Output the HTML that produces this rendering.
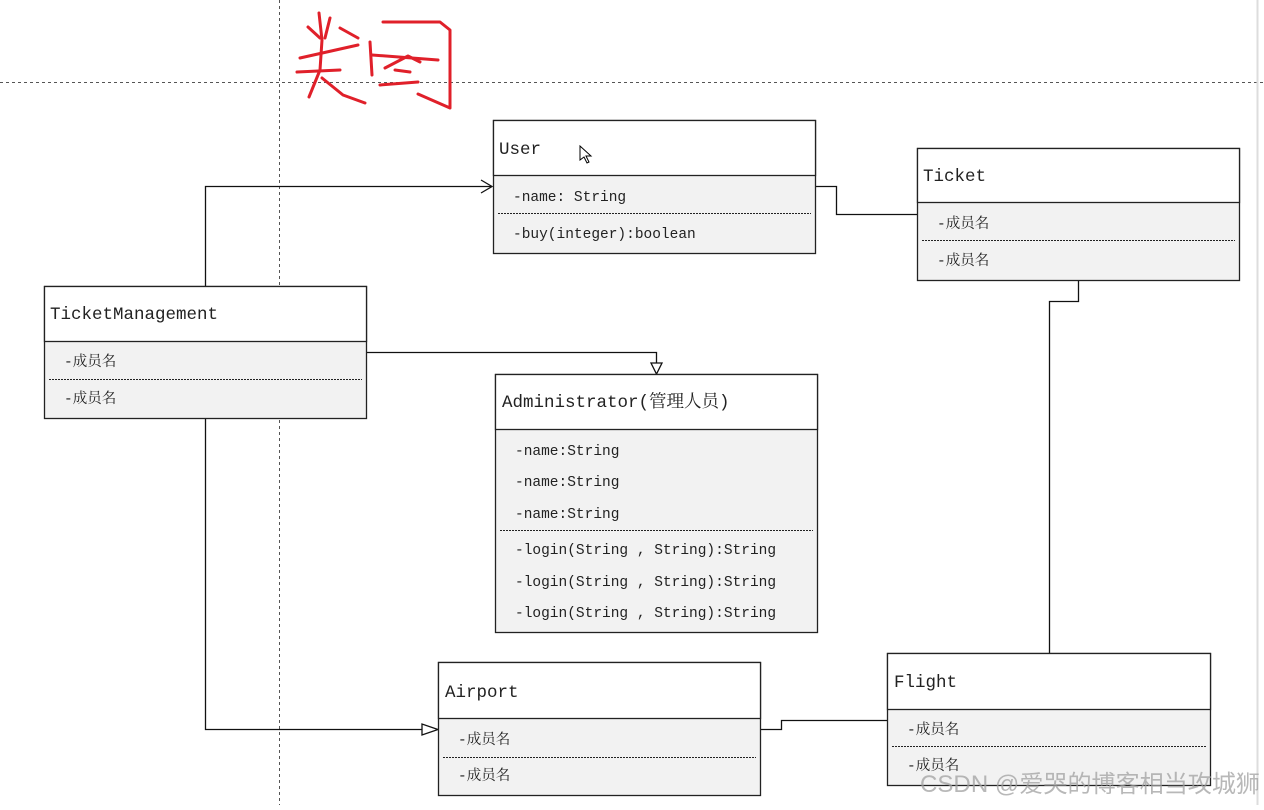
<!DOCTYPE html>
<html><head><meta charset="utf-8"><style>
body{margin:0;background:#fff;width:1264px;height:805px;overflow:hidden}
text{font-family:"Liberation Mono","Noto Serif CJK SC","Noto Sans CJK SC",monospace;font-size:14.5px;fill:#222}
.t{font-size:17.5px}
</style></head><body>
<svg width="1264" height="805" xmlns="http://www.w3.org/2000/svg">
<line x1="0" y1="82.5" x2="1264" y2="82.5" stroke="#555" stroke-dasharray="3,3"/>
<line x1="279.5" y1="0" x2="279.5" y2="805" stroke="#555" stroke-dasharray="3,3"/>
<line x1="1257.5" y1="0" x2="1257.5" y2="805" stroke="#ddd" stroke-width="2"/>
<g stroke="#e0202a" stroke-width="3" fill="none" stroke-linecap="round" stroke-linejoin="round">
<path d="M319 13 L322 40 L320 70 L309 97"/><path d="M330 18 L325 38"/><path d="M308 27 L320 38"/><path d="M300 58 L358 45"/><path d="M297 72 L340 70"/><path d="M322 78 L343 95 L365 103"/><path d="M340 28 L358 38"/>
<path d="M370 42 L372 75"/><path d="M372 55 L438 60"/><path d="M385 68 L408 56 L420 62"/><path d="M380 85 L418 82"/><path d="M383 22 L440 22 L450 30 L450 108 L418 94"/><path d="M395 70 L410 72"/>
</g>
<g stroke="#111" stroke-width="1.3" fill="none">
<polyline points="205.5,286 205.5,186.5 492,186.5"/><polyline points="481,180 492,186.5 481,193"/>
<polyline points="815,186.5 836.5,186.5 836.5,214.5 917,214.5"/>
<polyline points="1078.5,280 1078.5,301.5 1049.5,301.5 1049.5,653"/>
<polyline points="366,352.5 656.5,352.5 656.5,363"/><polygon points="651,363 662,363 656.5,374" fill="#fff"/>
<polyline points="205.5,418 205.5,729.5 422,729.5"/><polygon points="422,724 422,735 438,729.5" fill="#fff"/>
<polyline points="760,729.5 781.5,729.5 781.5,720.5 887,720.5"/>
</g>
<g stroke="#222" stroke-width="1.3">
<rect x="493.5" y="120.5" width="322" height="133" fill="#f2f2f2"/><rect x="493.5" y="120.5" width="322" height="55" fill="#fff"/>
<rect x="917.5" y="148.5" width="322" height="132" fill="#f2f2f2"/><rect x="917.5" y="148.5" width="322" height="54" fill="#fff"/>
<rect x="44.5" y="286.5" width="322" height="132" fill="#f2f2f2"/><rect x="44.5" y="286.5" width="322" height="55" fill="#fff"/>
<rect x="495.5" y="374.5" width="322" height="258" fill="#f2f2f2"/><rect x="495.5" y="374.5" width="322" height="55" fill="#fff"/>
<rect x="438.5" y="662.5" width="322" height="133" fill="#f2f2f2"/><rect x="438.5" y="662.5" width="322" height="56" fill="#fff"/>
<rect x="887.5" y="653.5" width="323" height="132" fill="#f2f2f2"/><rect x="887.5" y="653.5" width="323" height="56" fill="#fff"/>
</g>
<g stroke="#222" stroke-dasharray="2,1">
<line x1="498" y1="213.5" x2="811" y2="213.5"/><line x1="922" y1="240.5" x2="1235" y2="240.5"/>
<line x1="49" y1="379.5" x2="362" y2="379.5"/><line x1="500" y1="530.5" x2="813" y2="530.5"/>
<line x1="443" y1="757.5" x2="756" y2="757.5"/><line x1="892" y1="746.5" x2="1206" y2="746.5"/>
</g>
<text class="t" x="499" y="154">User</text>
<text x="513" y="201">-name: String</text><text x="513" y="238">-buy(integer):boolean</text>
<text class="t" x="923" y="181">Ticket</text>
<text x="937" y="228">-成员名</text><text x="937" y="265">-成员名</text>
<text class="t" x="50" y="319">TicketManagement</text>
<text x="64" y="366">-成员名</text><text x="64" y="403">-成员名</text>
<text class="t" x="502" y="407">Administrator(管理人员)</text>
<text x="515" y="455">-name:String</text><text x="515" y="486">-name:String</text><text x="515" y="518">-name:String</text>
<text x="515" y="554">-login(String , String):String</text><text x="515" y="586">-login(String , String):String</text><text x="515" y="617">-login(String , String):String</text>
<text class="t" x="445" y="697">Airport</text>
<text x="458" y="744">-成员名</text><text x="458" y="780">-成员名</text>
<text class="t" x="894" y="687">Flight</text>
<text x="907" y="734">-成员名</text><text x="907" y="770">-成员名</text>
<path d="M580 146 L580 160 L584 157 L587 163 L589 162 L586 156 L591 156 Z" fill="#fff" stroke="#000"/>
<text x="920" y="792" textLength="340" lengthAdjust="spacingAndGlyphs" style="font-family:'Liberation Sans','Noto Sans CJK SC',sans-serif;font-size:24px;fill:rgba(160,160,160,0.75)">CSDN @爱哭的博客相当攻城狮</text>
</svg>
</body></html>
